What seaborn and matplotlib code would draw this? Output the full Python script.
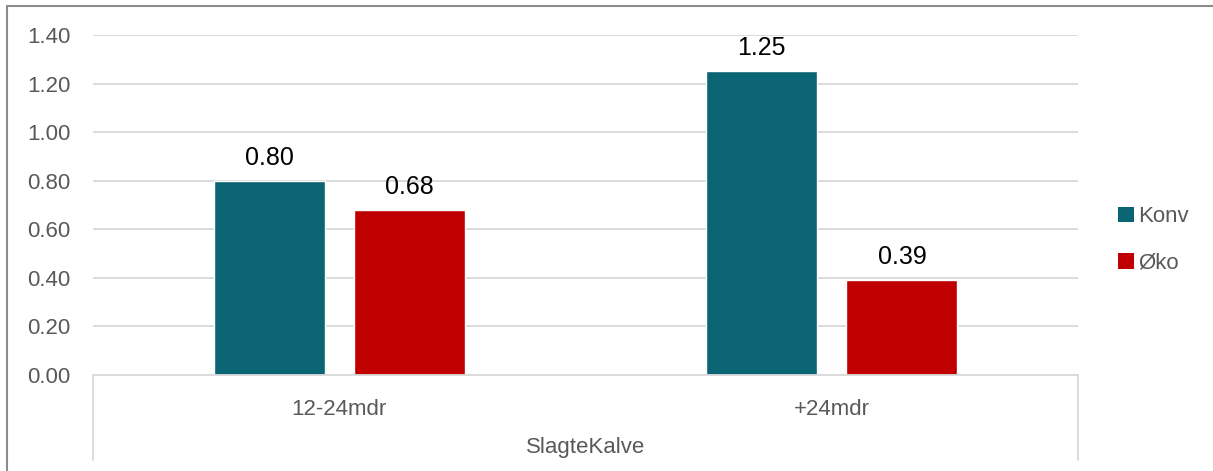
import pandas as pd
import matplotlib.pyplot as plt
import seaborn as sns
from matplotlib.lines import Line2D
from matplotlib.patches import Patch

# data
categories = ['12-24mdr', '+24mdr']
konv = [0.80, 1.25]
oko = [0.68, 0.39]
series_names = ['Konv', 'Øko']
group_label = 'SlagteKalve'

df = pd.DataFrame({
    'kategori': categories * 2,
    'serie': [series_names[0]] * 2 + [series_names[1]] * 2,
    'værdi': konv + oko,
})

colors = {'Konv': '#0B6473', 'Øko': '#C00000'}
grid_col = '#D9D9D9'
text_col = '#595959'

sns.set_style('white')
plt.rcParams['font.family'] = ['Liberation Sans', 'DejaVu Sans']

fig = plt.figure(figsize=(12.13, 4.71), dpi=100)
ax = fig.add_axes([93 / 1213, 1 - 375 / 471, (1078 - 93) / 1213, 340 / 471])

sns.barplot(data=df, x='kategori', y='værdi', hue='serie', palette=colors,
            order=categories, hue_order=series_names, width=0.57, gap=0.21,
            ax=ax, legend=False, saturation=1)

for c in ax.containers:
    ax.bar_label(c, fmt='%.2f', padding=8, fontsize=18, color='black')

ax.set_ylim(0, 1.4)
ax.set_xlim(-0.5, 1.5)
ax.set_yticks([i * 0.2 for i in range(8)])
ax.set_yticklabels([f'{i * 0.2:.2f}' for i in range(8)])
ax.yaxis.grid(True, color=grid_col, linewidth=1.3)
ax.set_axisbelow(True)
for s in ['top', 'right', 'left']:
    ax.spines[s].set_visible(False)
ax.spines['bottom'].set_color(grid_col)
ax.spines['bottom'].set_linewidth(1.3)
ax.tick_params(axis='y', length=0, pad=16, labelsize=16, labelcolor=text_col)
ax.tick_params(axis='x', length=0, pad=17, labelsize=16, labelcolor=text_col)
ax.set_xlabel('')
ax.set_ylabel('')

# multi-level category axis
for xx in [0, 1]:
    ax.plot([xx, xx], [0, -0.25], transform=ax.transAxes, color=grid_col,
            linewidth=1.3, clip_on=False)
ax.text(0.5, -0.214, group_label, transform=ax.transAxes, ha='center',
        va='center', fontsize=16, color=text_col)

# legend
handles = [Patch(facecolor=colors[n], edgecolor='none', label=n) for n in series_names]
fig.legend(handles=handles, loc='center left', bbox_to_anchor=(1098 / 1213, 1 - 240 / 471),
           frameon=False, fontsize=16, labelcolor=text_col, handlelength=0.7,
           handleheight=0.7, handletextpad=0.2, labelspacing=1.15)

# chart border (left and top)
fig.add_artist(Line2D([7 / 1213, 7 / 1213], [0, 1 - 6 / 471], color='#8C8C8C', linewidth=1.5))
fig.add_artist(Line2D([7 / 1213, 1], [1 - 6 / 471, 1 - 6 / 471], color='#8C8C8C', linewidth=1.5))

fig.savefig('out.png', dpi=100)
